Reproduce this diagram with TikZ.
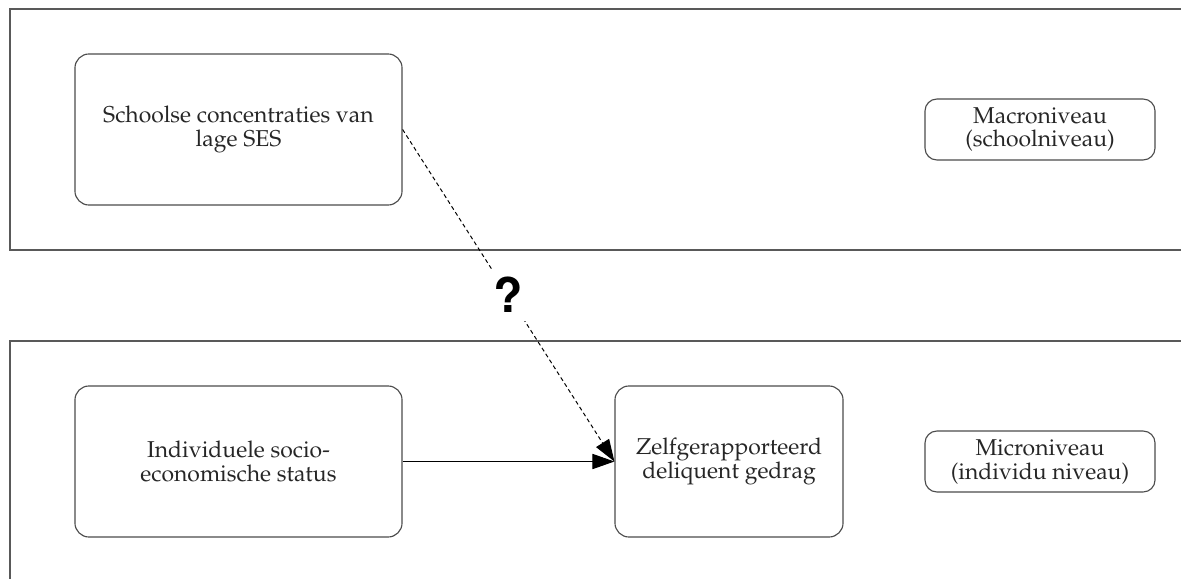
\documentclass[tikz,border=0pt]{standalone}
\usepackage[T1]{fontenc}
\usepackage{mathpazo}
\usepackage{helvet}
\usetikzlibrary{arrows.meta}

\begin{document}
\begin{tikzpicture}[x=0.025cm, y=-0.025cm,
    every node/.style={font=\fontsize{16.3}{17}\selectfont, align=center, text=black!85},
    frame/.style={draw=black!65, line width=1.2pt},
    box/.style={rectangle, rounded corners=0.35cm, draw=black!70, line width=0.8pt, minimum height=3.775cm},
    lvl/.style={rectangle, rounded corners=0.3cm, draw=black!70, line width=0.8pt, minimum width=5.75cm, minimum height=1.525cm},
    tip/.style={-{Triangle[length=0.55cm, width=0.38cm]}, line width=0.7pt},
    q/.style={fill=white, inner sep=0.2cm, text=black, font=\sffamily\bfseries\fontsize{34}{34}\selectfont}]
            \useasboundingbox (0,0) rectangle (1181,579);

            \draw[frame] (1181,9) -- (10,9) -- (10,250) -- (1181,250);
            \draw[frame] (1181,341) -- (10,341) -- (10,579);

            \node[box, minimum width=8.175cm] (ses) at (238.5,129.5) {Schoolse concentraties van\\lage SES};
            \node[box, minimum width=8.175cm] (ind) at (238.5,461.5) {Individuele socio-\\economische status};
            \node[box, minimum width=5.7cm] (zelf) at (729,461.5) {Zelfgerapporteerd\\deliquent gedrag};
            \node[lvl] (macro) at (1040,129.5) {Macroniveau\\(schoolniveau)};
            \node[lvl] (micro) at (1040,461.5) {Microniveau\\(individu niveau)};

            \draw (ind) edge[tip] (zelf)
            (ses.east) edge[tip, dash pattern=on 0.1cm off 0.075cm] node[q] {?} (zelf.west);
        \end{tikzpicture}
\end{document}
